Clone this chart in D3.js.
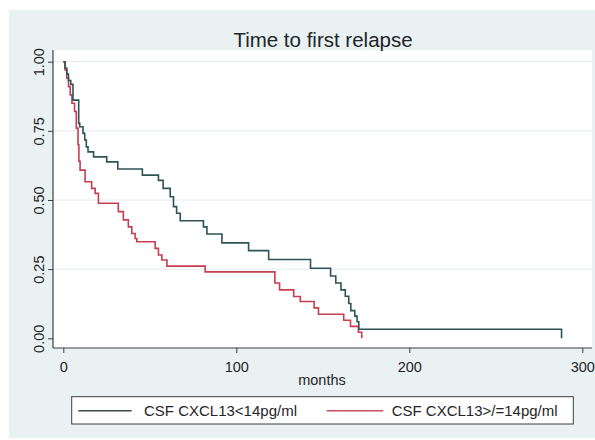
<!DOCTYPE html>
<html>
<head>
<meta charset="utf-8">
<script src="https://cdn.jsdelivr.net/npm/d3@7"></script>
<style>
  html, body { margin: 0; padding: 0; background: #ffffff; }
  svg { display: block; font-family: "Liberation Sans", Arial, Helvetica, sans-serif; }
</style>
</head>
<body>
<svg id="chart" width="595" height="440"></svg>
<script>
// Kaplan-Meier estimates: time (months) and survival proportion after each step
const lowTimes = [0, 1, 2, 3, 4.3, 5.6, 8.9, 9.5, 11.4, 12.4, 13.3, 14.3, 17.5, 25.1, 31.5,
  45.7, 55, 57.7, 61.8, 63.7, 65.5, 67.6, 81, 83, 91.7, 107.1, 118.7, 142.9, 154.5, 157.5,
  160.5, 163, 165, 166.2, 168.5, 169.8, 170.8, 288];
const lowSurv = [1.000, 0.977, 0.955, 0.932, 0.918, 0.861, 0.777, 0.765, 0.741, 0.717, 0.692,
  0.674, 0.656, 0.638, 0.612, 0.590, 0.571, 0.542, 0.512, 0.476, 0.452, 0.425, 0.403, 0.377,
  0.345, 0.317, 0.285, 0.253, 0.225, 0.200, 0.175, 0.152, 0.126, 0.100, 0.080, 0.060, 0.0325, 0];

const highTimes = [0, 1, 2, 3, 4, 5, 6.5, 7.5, 8.5, 9, 9.7, 12.6, 16.4, 18.4, 20.3, 31.8, 34.7,
  37.6, 39.6, 41.5, 42.5, 53.1, 55, 57, 59.9, 82, 122.3, 125, 133.2, 137, 145, 147.5, 162.1,
  166, 170.6, 172.5];
const highSurv = [1.000, 0.970, 0.940, 0.910, 0.880, 0.850, 0.820, 0.760, 0.700, 0.640, 0.608,
  0.566, 0.542, 0.524, 0.488, 0.458, 0.428, 0.403, 0.379, 0.361, 0.349, 0.325, 0.301, 0.283,
  0.261, 0.240, 0.200, 0.175, 0.151, 0.133, 0.110, 0.087, 0.065, 0.043, 0.022, 0];

const seriesNames = ["CSF CXCL13<14pg/ml", "CSF CXCL13>/=14pg/ml"];
const xTicks = [0, 100, 200, 300];
const yTicks = [0, 0.25, 0.5, 0.75, 1];
const titleText = "Time to first relapse";
const xLabel = "months";

const colors = ["#2c5357", "#c63e50"];
const legendColors = ["#3b4a4d", "#c9505e"];

const svg = d3.select("#chart");

// outer graph region and plot region
svg.append("rect").attr("x", 9).attr("y", 10).attr("width", 586).attr("height", 428)
  .attr("fill", "#e9f1f3");
const plot = { left: 53, right: 592, top: 50, bottom: 348 };
svg.append("rect").attr("x", plot.left).attr("y", plot.top)
  .attr("width", plot.right - plot.left).attr("height", plot.bottom - plot.top)
  .attr("fill", "#ffffff");

const x = d3.scaleLinear().domain([0, 300]).range([63.3, 582.3]);
const y = d3.scaleLinear().domain([0, 1]).range([338.3, 61.7]);

// horizontal grid lines
svg.append("g").selectAll("line").data(yTicks.filter(d => d > 0)).join("line")
  .attr("x1", plot.left).attr("x2", plot.right)
  .attr("y1", d => y(d)).attr("y2", d => y(d))
  .attr("stroke", "#e1eaed").attr("stroke-width", 1);

// survival curves
const line = d3.line().x(d => x(d[0])).y(d => y(d[1])).curve(d3.curveStepAfter);
const curves = [d3.zip(lowTimes, lowSurv), d3.zip(highTimes, highSurv)];
// the low group is drawn last so it sits on top where the curves overlap
[1, 0].forEach(i => {
  svg.append("path").datum(curves[i]).attr("d", line)
    .attr("fill", "none").attr("stroke", colors[i]).attr("stroke-width", 1.6)
    .attr("stroke-linejoin", "miter");
});

// axes
const axisColor = "#3a3f41";
const xAxis = svg.append("g").attr("transform", `translate(0,${plot.bottom})`)
  .call(d3.axisBottom(x).tickValues(xTicks).tickFormat(d3.format("d")).tickSize(5).tickPadding(9));
xAxis.select(".domain").remove();
xAxis.append("line").attr("x1", plot.left).attr("x2", plot.right).attr("y1", 0).attr("y2", 0)
  .attr("stroke", axisColor).attr("stroke-width", 1.2);
xAxis.selectAll(".tick line").attr("stroke", axisColor);
xAxis.selectAll(".tick text").attr("fill", "#1f2426").attr("font-size", 14.5);

const yAxis = svg.append("g").attr("transform", `translate(${plot.left},0)`)
  .call(d3.axisLeft(y).tickValues(yTicks).tickFormat(d3.format(".2f")).tickSize(5));
yAxis.select(".domain").remove();
yAxis.append("line").attr("x1", 0).attr("x2", 0).attr("y1", plot.top).attr("y2", plot.bottom)
  .attr("stroke", axisColor).attr("stroke-width", 1.2);
yAxis.selectAll(".tick line").attr("stroke", axisColor);
yAxis.selectAll(".tick text")
  .attr("x", null).attr("dy", null)
  .attr("text-anchor", "middle").attr("transform", "translate(-9.5,0) rotate(-90)")
  .attr("fill", "#1f2426").attr("font-size", 14.5);

// title and axis label
svg.append("text").attr("x", 323).attr("y", 46.5).attr("text-anchor", "middle")
  .attr("font-size", 20.5).attr("fill", "#1e2528").text(titleText);
svg.append("text").attr("x", 322).attr("y", 385).attr("text-anchor", "middle")
  .attr("font-size", 14.5).attr("fill", "#1f2426").text(xLabel);

// legend
const legend = svg.append("g");
legend.append("rect").attr("x", 71.7).attr("y", 396.7).attr("width", 501.6).attr("height", 27.3)
  .attr("fill", "#ffffff").attr("stroke", "#3a3f41").attr("stroke-width", 1);
const legendItems = [{ x1: 78.3, x2: 131.7, tx: 144 }, { x1: 326.7, x2: 383.3, tx: 391.7 }];
legendItems.forEach((it, i) => {
  legend.append("line").attr("x1", it.x1).attr("x2", it.x2).attr("y1", 410.7).attr("y2", 410.7)
    .attr("stroke", legendColors[i]).attr("stroke-width", 1.4);
  legend.append("text").attr("x", it.tx).attr("y", 416).attr("font-size", 15)
    .attr("fill", "#1f2426").text(seriesNames[i]);
});
</script>
</body>
</html>
